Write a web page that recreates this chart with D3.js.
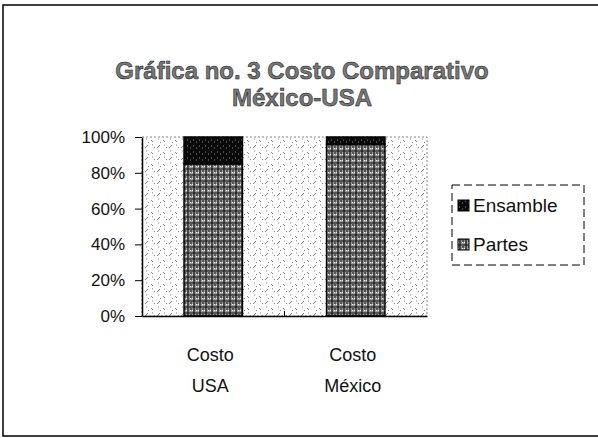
<!DOCTYPE html>
<html lang="es">
<head>
  <meta charset="UTF-8">
  <title>Costo Comparativo</title>
  <script src="https://d3js.org/d3.v7.min.js"></script>
  <style>
    * { margin: 0; padding: 0; box-sizing: border-box; }
    body { background: #fff; font-family: Arial, "Liberation Sans", sans-serif; overflow: hidden; }
  </style>
</head>
<body>
  <div id="chart"></div>
  <script>
    const categories = ["Costo USA", "Costo México"];
    const seriesNames = ["Partes", "Ensamble"];
    const partes = [85, 96];
    const ensamble = [15, 4];
    const tickValues = [0, 0.2, 0.4, 0.6, 0.8, 1];
    const tickLabels = ["0%", "20%", "40%", "60%", "80%", "100%"];

    const W = 598, H = 438;
    const plot = {left: 142, right: 427, top: 137, bottom: 316};

    const svg = d3.select("#chart").append("svg")
      .attr("width", W).attr("height", H);

    const defs = svg.append("defs");

    // speckled gray background of the plot area
    const bg = defs.append("pattern").attr("id", "bgpat")
      .attr("patternUnits", "userSpaceOnUse").attr("width", 12).attr("height", 12);
    bg.append("rect").attr("width", 12).attr("height", 12).attr("fill", "#fff");
    bg.append("path").attr("d", "M1,4 l3,-3 M7,8 l2,2 M4,11 l1,-1 M10,3 l1,1 M2,7 h1 M8,1 h1")
      .attr("stroke", "#888").attr("stroke-width", 1);

    // dense dark pattern for Partes
    const pp = defs.append("pattern").attr("id", "partespat")
      .attr("patternUnits", "userSpaceOnUse").attr("width", 6).attr("height", 6);
    pp.append("rect").attr("width", 6).attr("height", 6).attr("fill", "#9a9a9a");
    pp.append("path").attr("d", "M0,1 h6 M2,0 v6 M4,3 h2")
      .attr("stroke", "#111").attr("stroke-width", 1.2);
    pp.append("path").attr("d", "M4,4.5 h1 M0,4.5 h1")
      .attr("stroke", "#eee").attr("stroke-width", 1);

    // near-black pattern for Ensamble
    const ep = defs.append("pattern").attr("id", "enspat")
      .attr("patternUnits", "userSpaceOnUse").attr("width", 6).attr("height", 6);
    ep.append("rect").attr("width", 6).attr("height", 6).attr("fill", "#0a0a0a");
    ep.append("path").attr("d", "M1,2 h1 M4,4 h1")
      .attr("stroke", "#888").attr("stroke-width", 1);

    const fills = {"Partes": "url(#partespat)", "Ensamble": "url(#enspat)"};

    // outer chart frame (right edge runs off the picture)
    svg.append("rect")
      .attr("x", 3).attr("y", 5).attr("width", 600).attr("height", 431)
      .attr("fill", "none").attr("stroke", "#000").attr("stroke-width", 1.5);

    // title
    const title = svg.append("text")
      .attr("text-anchor", "middle")
      .style("font-size", "24px").style("font-weight", "bold")
      .attr("fill", "#777").attr("stroke", "#111").attr("stroke-width", 0.5);
    title.append("tspan").attr("x", 302).attr("y", 79).text("Gráfica no. 3 Costo Comparativo");
    title.append("tspan").attr("x", 302).attr("y", 106).text("México-USA");

    const x = d3.scaleBand().domain(categories).range([plot.left, plot.right]).padding(0);
    const y = d3.scaleLinear().domain([0, 1]).range([plot.bottom, plot.top]);
    const barW = x.bandwidth() * 0.41;

    // plot area
    svg.append("rect")
      .attr("x", plot.left).attr("y", plot.top)
      .attr("width", plot.right - plot.left).attr("height", plot.bottom - plot.top)
      .attr("fill", "url(#bgpat)")
      .attr("stroke", "#888").attr("stroke-dasharray", "2,2");

    const table = categories.map((c, i) => ({cat: c, Partes: partes[i], Ensamble: ensamble[i]}));
    const stack = d3.stack().keys(seriesNames).offset(d3.stackOffsetExpand)(table);

    svg.append("g").selectAll("g")
      .data(stack)
      .join("g")
      .attr("fill", d => fills[d.key])
      .selectAll("rect")
      .data(d => d)
      .join("rect")
      .attr("x", d => x(d.data.cat) + (x.bandwidth() - barW) / 2)
      .attr("width", barW)
      .attr("y", d => y(d[1]))
      .attr("height", d => y(d[0]) - y(d[1]))
      .attr("stroke", "#000").attr("stroke-width", 1.5);

    // y axis
    const yAxis = svg.append("g")
      .attr("transform", `translate(${plot.left},0)`)
      .call(d3.axisLeft(y).tickValues(tickValues)
        .tickFormat((d, i) => tickLabels[i]).tickSize(7).tickSizeOuter(0).tickPadding(10));
    yAxis.selectAll("text").style("font-size", "17px").style("font-family", "Arial, sans-serif").attr("fill", "#111");
    yAxis.select(".domain").attr("stroke-width", 1.5);

    // x axis
    const xAxis = svg.append("g")
      .attr("transform", `translate(0,${plot.bottom})`)
      .call(d3.axisBottom(x).tickSize(0).tickFormat(""));
    xAxis.select(".domain").attr("stroke-width", 1.5);
    xAxis.selectAll(".tick").remove();

    // category separator on the x axis
    svg.append("line")
      .attr("x1", x(categories[1])).attr("x2", x(categories[1]))
      .attr("y1", plot.bottom).attr("y2", plot.bottom - 5)
      .attr("stroke", "#000");

    // category labels on two lines
    categories.forEach(c => {
      const t = svg.append("text")
        .attr("text-anchor", "middle")
        .style("font-size", "18px").attr("fill", "#111");
      c.split(" ").forEach((w, j) => {
        t.append("tspan")
          .attr("x", x(c) + x.bandwidth() / 2 - 3)
          .attr("y", 361 + j * 31)
          .text(w);
      });
    });

    // legend
    const legend = svg.append("g").attr("transform", "translate(452,185)");
    legend.append("rect")
      .attr("width", 132).attr("height", 80)
      .attr("fill", "#fff").attr("stroke", "#000").attr("stroke-dasharray", "8,4");

    const legendOrder = ["Ensamble", "Partes"];
    legendOrder.forEach((name, i) => {
      const row = legend.append("g").attr("transform", `translate(6, ${20 + i * 39})`);
      row.append("rect")
        .attr("width", 11).attr("height", 11).attr("y", -5)
        .attr("fill", fills[name]).attr("stroke", "#000");
      row.append("text")
        .attr("x", 15).attr("y", 7)
        .style("font-size", "19px").attr("fill", "#111")
        .text(name);
    });
  </script>
</body>
</html>
